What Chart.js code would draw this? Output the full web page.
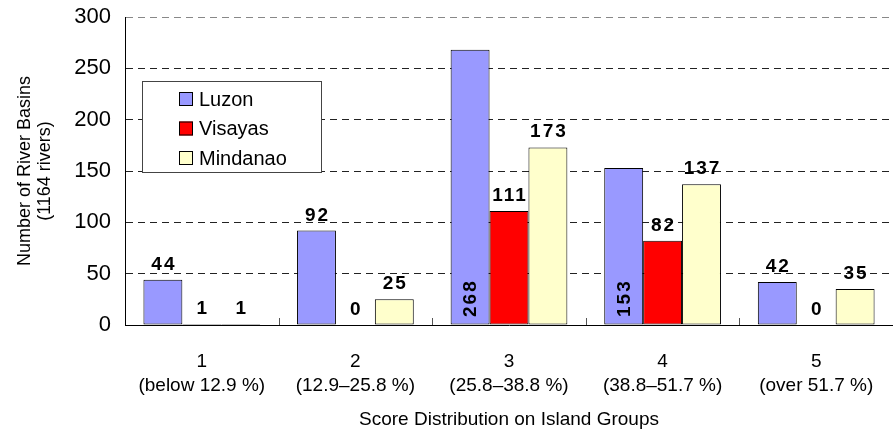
<!DOCTYPE html>
<html>
<head>
<meta charset="utf-8">
<script src="https://cdn.jsdelivr.net/npm/chart.js@4"></script>
<style>
  html, body { margin: 0; padding: 0; background: #fff; }
  #wrap { width: 893px; height: 434px; }
</style>
</head>
<body>
<div id="wrap"><canvas id="basinChart" width="893" height="434"></canvas></div>
<script>
// categories and series
const scoreLabels = [
    ['1', '(below 12.9 %)'],
    ['2', '(12.9\u201325.8 %)'],
    ['3', '(25.8\u201338.8 %)'],
    ['4', '(38.8\u201351.7 %)'],
    ['5', '(over 51.7 %)']
];
const seriesNames = ['Luzon', 'Visayas', 'Mindanao'];
const luzon = [44, 92, 268, 153, 42];
const visayas = [1, 0, 111, 82, 0];
const mindanao = [1, 25, 173, 137, 35];
// which value labels sit rotated inside the bar
const luzonInside = [false, false, true, true, false];
const yTicks = [0, 50, 100, 150, 200, 250, 300];

const seriesColors = ['#9999FF', '#FF0000', '#FFFFCC'];
const baseFont = '"Liberation Sans", Arial, sans-serif';

const ctx = document.getElementById('basinChart').getContext('2d');

// value labels above bars (or rotated inside for the tall Luzon ones)
const valueLabels = {
    id: 'valueLabels',
    afterDatasetsDraw(chart) {
        const c = chart.ctx;
        const yScale = chart.scales.y;
        c.save();
        c.font = 'bold 19px ' + baseFont;
        c.fillStyle = '#000';
        c.letterSpacing = '2px';
        chart.data.datasets.forEach((ds, di) => {
            chart.getDatasetMeta(di).data.forEach((bar, i) => {
                const text = String(ds.data[i]);
                if (di === 0 && luzonInside[i]) {
                    c.save();
                    c.translate(bar.x + 1, yScale.getPixelForValue(0) - 8);
                    c.rotate(-Math.PI / 2);
                    c.textAlign = 'left';
                    c.textBaseline = 'middle';
                    c.fillText(text, 0, 0);
                    c.restore();
                } else {
                    c.textAlign = 'center';
                    c.textBaseline = 'alphabetic';
                    c.fillText(text, bar.x + 1, bar.y - 10);
                }
            });
        });
        c.restore();
    }
};

// short ticks between categories, drawn upward from the axis
const categoryTicks = {
    id: 'categoryTicks',
    afterDraw(chart) {
        const c = chart.ctx;
        const x = chart.scales.x;
        const y0 = chart.chartArea.bottom;
        c.save();
        c.strokeStyle = '#555';
        c.lineWidth = 1;
        for (let i = 0; i < scoreLabels.length - 1; i++) {
            const px = Math.round((x.getPixelForValue(i) + x.getPixelForValue(i + 1)) / 2) + 0.5;
            c.beginPath();
            c.moveTo(px, y0);
            c.lineTo(px, y0 - 7);
            c.stroke();
        }
        c.restore();
    }
};

// boxed legend inside the plot area
const boxLegend = {
    id: 'boxLegend',
    afterDraw(chart) {
        const c = chart.ctx;
        const left = 142, top = 81, w = 179, h = 91;
        c.save();
        c.fillStyle = '#fff';
        c.fillRect(left, top, w, h);
        c.strokeStyle = '#444';
        c.lineWidth = 1;
        c.strokeRect(left + 0.5, top + 0.5, w, h);
        c.font = '20px ' + baseFont;
        c.textBaseline = 'middle';
        c.textAlign = 'left';
        seriesNames.forEach((name, i) => {
            const cy = top + 18 + i * 29.5;
            c.fillStyle = seriesColors[i];
            c.fillRect(179, cy - 7, 14, 14);
            c.strokeStyle = '#000';
            c.strokeRect(179.5, cy - 6.5, 13, 13);
            c.fillStyle = '#000';
            c.fillText(name, 199, cy + 1);
        });
        c.restore();
    }
};

new Chart(ctx, {
    type: 'bar',
    data: {
        labels: scoreLabels,
        datasets: [luzon, visayas, mindanao].map((vals, i) => ({
            label: seriesNames[i],
            data: vals,
            backgroundColor: seriesColors[i],
            borderColor: '#000',
            borderWidth: 1,
            borderSkipped: false,
            categoryPercentage: 0.76,
            barPercentage: 1.0
        }))
    },
    options: {
        responsive: false,
        animation: false,
        layout: {
            padding: { top: 17, right: -5, bottom: 0, left: 0 }
        },
        plugins: {
            legend: { display: false },
            tooltip: { enabled: false }
        },
        scales: {
            y: {
                min: 0,
                max: 300,
                afterBuildTicks: (scale) => {
                    scale.ticks = yTicks.map(v => ({ value: v }));
                },
                afterFit: (scale) => {
                    scale.width = 125;
                    scale.paddingTop = 0;
                    scale.paddingBottom = 0;
                },
                ticks: {
                    color: '#000',
                    padding: 14,
                    font: { family: baseFont, size: 22 }
                },
                grid: {
                    color: (c) => (c.tick && c.tick.value === 300 ? '#888' : '#222'),
                    lineWidth: 1,
                    drawTicks: false
                },
                border: {
                    display: true,
                    color: '#000',
                    width: 1,
                    dash: [7, 5]
                },
                title: {
                    display: true,
                    text: ['Number of River Basins', '(1164 rivers)'],
                    color: '#000',
                    font: { family: baseFont, size: 18, lineHeight: 1.1 },
                    padding: { top: 15, bottom: 0 }
                }
            },
            x: {
                afterFit: (scale) => { scale.height = 109; },
                ticks: {
                    color: '#000',
                    padding: 17,
                    maxRotation: 0,
                    autoSkip: false,
                    font: { family: baseFont, size: 19, lineHeight: 1.26 }
                },
                grid: { display: false },
                border: { display: true, color: '#000', width: 1 },
                title: {
                    display: true,
                    text: 'Score Distribution on Island Groups',
                    color: '#000',
                    font: { family: baseFont, size: 19 },
                    padding: { top: 0, bottom: 3 }
                }
            }
        }
    },
    plugins: [valueLabels, categoryTicks, boxLegend]
});
</script>
</body>
</html>
